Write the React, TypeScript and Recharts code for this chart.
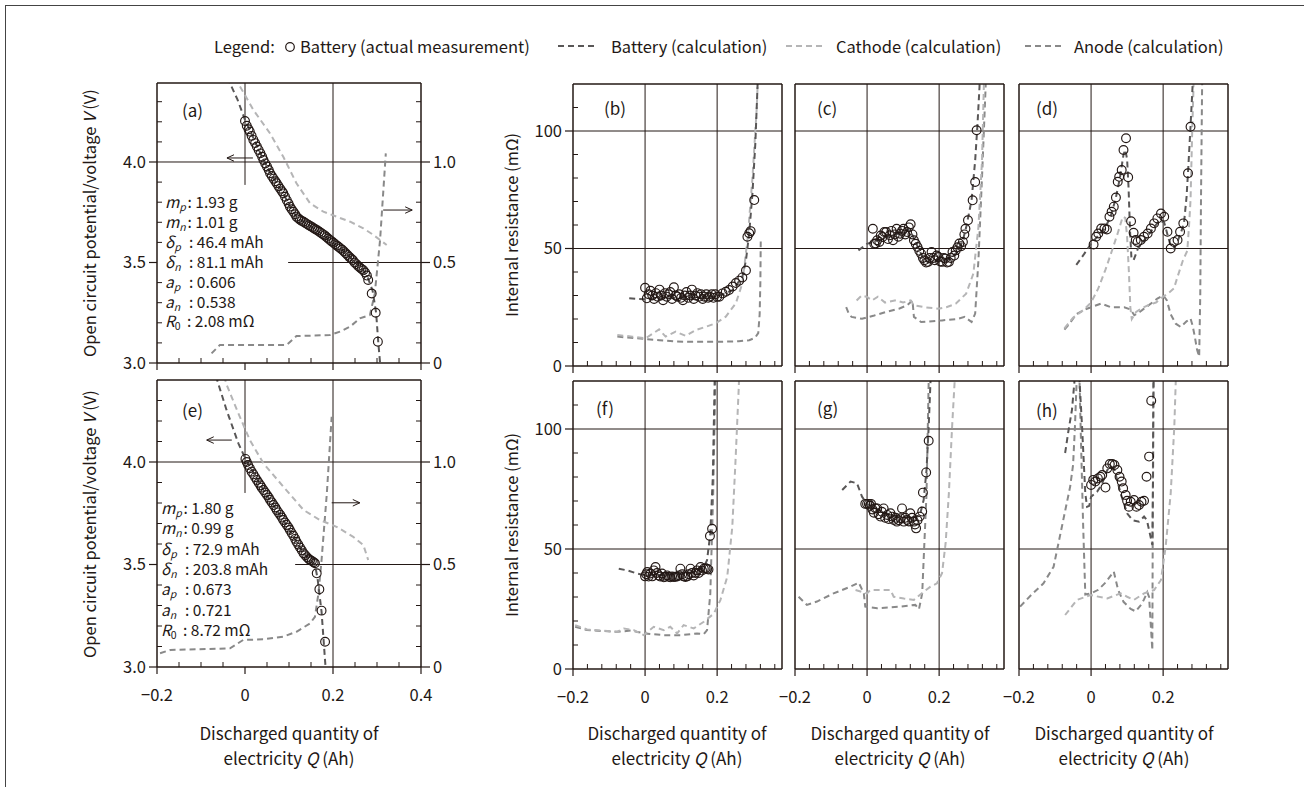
import React from 'react';
import { ComposedChart, Line, Scatter, XAxis, YAxis, ReferenceLine } from 'recharts';

const INK = '#231815';
const COL_BATT = '#595757';
const COL_CATH = '#b5b5b6';
const COL_ANODE = '#898989';
const FONT = "'Noto Sans CJK JP', 'Noto Sans', sans-serif";
const DASH = '6 4';

// ---------- tick values ----------
const QA_TICKS = [-0.2, -0.15, -0.1, -0.05, 0, 0.05, 0.1, 0.15, 0.2, 0.25, 0.3, 0.35, 0.4];
const QA_MAJOR = [-0.2, 0, 0.2, 0.4];
const QR_TICKS = [-0.2, -0.16, -0.12, -0.08, -0.04, 0, 0.04, 0.08, 0.12, 0.16, 0.2, 0.24, 0.28, 0.32, 0.36];
const QR_MAJOR = [-0.2, 0, 0.2];
const V_TICKS = [3.0, 3.1, 3.2, 3.3, 3.4, 3.5, 3.6, 3.7, 3.8, 3.9, 4.0, 4.1, 4.2, 4.3];
const V_MAJOR = [3.0, 3.5, 4.0];
const E_TICKS = [0, 0.1, 0.2, 0.3, 0.4, 0.5, 0.6, 0.7, 0.8, 0.9, 1.0, 1.1, 1.2, 1.3];
const E_MAJOR = [0, 0.5, 1.0];
const R_TICKS = [0, 10, 20, 30, 40, 50, 60, 70, 80, 90, 100, 110];
const R_MAJOR = [0, 50, 100];

// ---------- panel (a) ----------
const A_MEAS = [
  [0.0, 4.204], [0.004, 4.18], [0.008, 4.163], [0.011, 4.151], [0.015, 4.13], [0.019, 4.11], [0.023, 4.094],
  [0.027, 4.077], [0.031, 4.06], [0.035, 4.043], [0.039, 4.026], [0.042, 4.01], [0.046, 3.993], [0.05, 3.977],
  [0.054, 3.96], [0.057, 3.944], [0.061, 3.93], [0.065, 3.917], [0.069, 3.904], [0.072, 3.894], [0.076, 3.88],
  [0.08, 3.867], [0.084, 3.854], [0.087, 3.844], [0.091, 3.827], [0.095, 3.81], [0.099, 3.793], [0.102, 3.778],
  [0.106, 3.765], [0.11, 3.752], [0.114, 3.74], [0.117, 3.728], [0.121, 3.72], [0.125, 3.713], [0.129, 3.707],
  [0.133, 3.703], [0.137, 3.697], [0.141, 3.691], [0.145, 3.685], [0.149, 3.68], [0.153, 3.675], [0.157, 3.669],
  [0.161, 3.664], [0.165, 3.659], [0.169, 3.653], [0.173, 3.647], [0.177, 3.641], [0.181, 3.635], [0.185, 3.627],
  [0.189, 3.619], [0.193, 3.612], [0.197, 3.605], [0.201, 3.598], [0.205, 3.591], [0.209, 3.584], [0.213, 3.577],
  [0.217, 3.57], [0.221, 3.563], [0.225, 3.555], [0.229, 3.546], [0.233, 3.537], [0.237, 3.528], [0.241, 3.52],
  [0.245, 3.512], [0.249, 3.5], [0.253, 3.492], [0.257, 3.483], [0.261, 3.475], [0.265, 3.468], [0.269, 3.461],
  [0.273, 3.45], [0.277, 3.435], [0.28, 3.413], [0.288, 3.346], [0.297, 3.25], [0.302, 3.106],
];
const A_BATT = [
  [-0.04, 4.42], [-0.017, 4.31], [0.0, 4.21], [0.02, 4.115], [0.042, 4.01], [0.06, 3.935], [0.087, 3.844],
  [0.102, 3.778], [0.117, 3.728], [0.133, 3.703], [0.16, 3.665], [0.193, 3.612], [0.22, 3.565], [0.246, 3.51],
  [0.269, 3.461], [0.28, 3.42], [0.29, 3.36], [0.298, 3.25], [0.303, 3.1], [0.309, 2.95],
];
const A_CATH = [
  [-0.022, 4.42], [-0.015, 4.39], [0.019, 4.259], [0.057, 4.142], [0.087, 4.026], [0.117, 3.894], [0.148, 3.794],
  [0.178, 3.753], [0.208, 3.728], [0.239, 3.703], [0.269, 3.67], [0.292, 3.637], [0.307, 3.612], [0.322, 3.587],
];
const A_ANODE = [
  [-0.076, 0.048], [-0.057, 0.09], [0.095, 0.09], [0.117, 0.134], [0.193, 0.139], [0.216, 0.156], [0.239, 0.181],
  [0.261, 0.222], [0.284, 0.239], [0.295, 0.346], [0.307, 0.612], [0.314, 0.844], [0.32, 1.043],
];

// ---------- panel (e) ----------
const E_MEAS = [
  [0.001, 4.015], [0.004, 4.0], [0.007, 3.985], [0.011, 3.969], [0.015, 3.953], [0.019, 3.94], [0.023, 3.926],
  [0.027, 3.912], [0.031, 3.899], [0.035, 3.886], [0.038, 3.875], [0.042, 3.863], [0.046, 3.851], [0.05, 3.839],
  [0.054, 3.827], [0.057, 3.815], [0.061, 3.803], [0.065, 3.79], [0.069, 3.778], [0.072, 3.766], [0.076, 3.754],
  [0.08, 3.742], [0.084, 3.729], [0.087, 3.717], [0.091, 3.705], [0.095, 3.693], [0.099, 3.68], [0.102, 3.668],
  [0.106, 3.654], [0.11, 3.64], [0.114, 3.625], [0.117, 3.611], [0.121, 3.597], [0.125, 3.583], [0.129, 3.569],
  [0.133, 3.555], [0.137, 3.545], [0.141, 3.535], [0.145, 3.527], [0.148, 3.522], [0.152, 3.517], [0.156, 3.511],
  [0.159, 3.506], [0.163, 3.457], [0.169, 3.379], [0.174, 3.275], [0.182, 3.123],
];
const E_BATT = [
  [-0.066, 4.42], [-0.061, 4.384], [-0.042, 4.254], [-0.015, 4.091], [0.001, 4.015], [0.042, 3.863], [0.087, 3.717],
  [0.133, 3.555], [0.159, 3.5], [0.165, 3.43], [0.174, 3.27], [0.182, 3.03], [0.185, 2.95],
];
const E_CATH = [
  [-0.047, 4.42], [-0.043, 4.384], [-0.015, 4.237], [0.011, 4.107], [0.042, 3.993], [0.087, 3.88], [0.133, 3.766],
  [0.17, 3.717], [0.208, 3.684], [0.246, 3.635], [0.269, 3.595], [0.28, 3.522],
];
const E_ANODE = [
  [-0.193, 0.067], [-0.17, 0.083], [-0.034, 0.091], [-0.004, 0.132], [0.042, 0.135], [0.087, 0.148], [0.117, 0.172],
  [0.148, 0.213], [0.159, 0.245], [0.167, 0.36], [0.174, 0.522], [0.186, 0.847], [0.197, 1.221],
];

// ---------- panel (b) ----------
const B_MEAS = [
  [0.0, 33.3], [0.005, 28.8], [0.01, 30.5], [0.015, 32], [0.02, 30], [0.025, 28.5], [0.03, 31], [0.035, 29.5],
  [0.04, 32.5], [0.045, 30], [0.05, 28], [0.055, 31], [0.06, 29.5], [0.065, 30.5], [0.07, 31.5], [0.075, 28.5],
  [0.08, 33.5], [0.085, 30], [0.09, 29.5], [0.095, 30.5], [0.1, 29], [0.105, 28], [0.11, 30], [0.115, 31.5],
  [0.12, 29], [0.125, 30], [0.13, 32.5], [0.135, 28.5], [0.14, 30], [0.145, 31], [0.15, 29.5], [0.155, 30.5],
  [0.16, 28.5], [0.165, 29.5], [0.17, 30.5], [0.175, 29], [0.18, 29.5], [0.185, 30.5], [0.19, 29], [0.195, 30.5],
  [0.2, 29.5], [0.206, 29.5], [0.215, 30.9], [0.224, 31.6], [0.233, 32.3], [0.243, 33.8], [0.252, 35.3],
  [0.261, 36.3], [0.27, 37.7], [0.28, 40.6], [0.284, 55], [0.289, 56.5], [0.293, 57.4], [0.303, 70.6],
];
const B_BATT = [
  [-0.044, 28.8], [-0.02, 28.5], [0.0, 28.4], [0.05, 28.8], [0.1, 29], [0.15, 29], [0.2, 29.5], [0.243, 32.3],
  [0.27, 38], [0.28, 45], [0.289, 56.5], [0.298, 73.5], [0.306, 94.8], [0.312, 118.8], [0.314, 126],
];
const B_CATH = [
  [-0.077, 13.2], [-0.035, 12.5], [0.002, 11.8], [0.039, 15.6], [0.057, 12.5], [0.085, 14.6], [0.113, 12.8],
  [0.141, 15.3], [0.169, 16.7], [0.196, 18.2], [0.224, 21], [0.252, 26.7], [0.27, 35.2], [0.285, 55],
  [0.298, 80], [0.31, 110], [0.314, 126],
];
const B_ANODE = [
  [-0.077, 12.5], [-0.04, 12], [0.0, 11.5], [0.04, 11], [0.08, 10.5], [0.12, 10.3], [0.2, 10.3], [0.26, 10.5],
  [0.289, 11], [0.305, 12], [0.314, 14], [0.318, 22], [0.32, 36], [0.321, 53],
];

// ---------- panel (c) ----------
const C_MEAS = [
  [0.016, 58.4], [0.02, 52], [0.024, 52.1], [0.028, 53.5], [0.034, 52.8], [0.038, 55.5], [0.043, 54.9],
  [0.048, 57], [0.053, 57], [0.058, 54], [0.063, 55.6], [0.068, 57.5], [0.072, 53.5], [0.077, 56], [0.082, 58.4],
  [0.087, 55], [0.092, 56.3], [0.097, 57.5], [0.101, 58.4], [0.106, 56], [0.111, 57], [0.116, 59], [0.121, 60.3],
  [0.126, 56], [0.13, 53.5], [0.135, 52], [0.14, 50.6], [0.145, 49], [0.15, 47.8], [0.155, 46], [0.159, 45],
  [0.164, 44], [0.169, 44.3], [0.174, 46], [0.179, 48.5], [0.184, 46], [0.188, 45], [0.193, 47], [0.198, 46.4],
  [0.203, 44.5], [0.208, 44.3], [0.213, 46], [0.217, 45.7], [0.222, 44], [0.227, 44.3], [0.232, 46], [0.237, 48.5],
  [0.242, 47], [0.246, 49.2], [0.251, 50.5], [0.256, 52.1], [0.261, 51], [0.266, 52.8], [0.27, 56], [0.273, 58.4],
  [0.28, 62], [0.293, 70.5], [0.3, 78.3], [0.304, 100.3],
];
const C_BATT = [
  [-0.024, 49.2], [0.0, 52], [0.03, 53.5], [0.06, 55], [0.09, 56.5], [0.115, 58], [0.125, 56], [0.14, 51],
  [0.155, 46], [0.17, 44], [0.2, 45], [0.23, 45.5], [0.25, 48.5], [0.265, 53], [0.275, 59], [0.29, 70.5],
  [0.3, 87.5], [0.306, 101.7], [0.312, 118.7], [0.313, 126],
];
const C_CATH = [
  [-0.029, 27.9], [-0.015, 30], [0.0, 29.4], [0.014, 27.9], [0.03, 29.5], [0.05, 27], [0.08, 28], [0.1, 27],
  [0.121, 27.9], [0.13, 25.8], [0.16, 25], [0.198, 24.4], [0.22, 25], [0.246, 26.5], [0.275, 30.8], [0.295, 39.3],
  [0.309, 59.1], [0.319, 87.5], [0.324, 118.7], [0.325, 126],
];
const C_ANODE = [
  [-0.058, 25.1], [-0.05, 22], [-0.043, 20.9], [-0.014, 20.1], [0.02, 21.5], [0.053, 23], [0.09, 24.5],
  [0.111, 25.8], [0.126, 27.9], [0.13, 20.9], [0.15, 18.7], [0.208, 19.4], [0.25, 20], [0.271, 20.9], [0.29, 18.7],
  [0.3, 22.3], [0.309, 45], [0.319, 80.4], [0.329, 118.7], [0.33, 126],
];

// ---------- panel (d) ----------
const D_MEAS = [
  [0.007, 51.7], [0.014, 55], [0.02, 56.4], [0.028, 58.5], [0.037, 58.5], [0.044, 58.1], [0.051, 63.5],
  [0.057, 65.6], [0.063, 67.8], [0.069, 71.7], [0.074, 78.4], [0.078, 80.5], [0.085, 83.4], [0.09, 91.9],
  [0.097, 96.9], [0.103, 80.3], [0.111, 61.6], [0.118, 56.7], [0.124, 53.6], [0.129, 52.8], [0.138, 53.6],
  [0.147, 55], [0.157, 56.4], [0.166, 58.5], [0.175, 60.7], [0.184, 62.8], [0.194, 64.9], [0.203, 63.5],
  [0.212, 57.1], [0.221, 50], [0.23, 52.8], [0.24, 53.6], [0.247, 57.1], [0.256, 60.7], [0.269, 82], [0.276, 101.8],
];
const D_BATT = [
  [-0.041, 43], [-0.02, 47.5], [0.0, 52], [0.02, 55.5], [0.04, 59], [0.055, 64], [0.068, 71], [0.08, 80], [0.09, 90],
  [0.095, 92], [0.1, 88], [0.104, 76], [0.108, 58], [0.112, 46], [0.118, 45], [0.13, 50], [0.15, 54], [0.17, 58],
  [0.19, 62], [0.203, 61], [0.212, 56], [0.221, 51], [0.23, 50], [0.24, 53], [0.25, 57], [0.258, 61], [0.265, 72],
  [0.27, 85], [0.276, 102], [0.282, 120], [0.284, 126],
];
const D_CATH = [
  [-0.074, 16], [-0.05, 20.5], [-0.02, 24], [0.0, 27], [0.02, 33], [0.04, 41], [0.06, 50], [0.075, 57], [0.088, 63.5],
  [0.095, 63], [0.1, 55], [0.105, 40], [0.109, 25], [0.113, 20], [0.125, 23], [0.14, 24.5], [0.16, 26], [0.18, 27],
  [0.2, 29.5], [0.215, 31], [0.23, 33], [0.24, 38], [0.255, 45], [0.267, 49], [0.272, 60], [0.276, 70.6],
  [0.281, 102], [0.284, 117], [0.285, 126],
];
const D_ANODE = [
  [-0.074, 15.5], [-0.06, 18], [-0.041, 22], [-0.018, 24], [0.0, 25], [0.028, 26.6], [0.055, 25], [0.092, 25],
  [0.11, 24], [0.12, 21.6], [0.135, 23], [0.147, 24.4], [0.17, 27], [0.184, 28.7], [0.2, 30.1], [0.21, 28],
  [0.221, 22], [0.235, 18], [0.249, 16.6], [0.265, 19], [0.276, 20.2], [0.282, 17], [0.288, 12.4], [0.294, 7],
  [0.3, 4], [0.303, 30], [0.305, 70], [0.308, 117], [0.309, 126],
];

// ---------- panel (f) ----------
const F_MEAS = [
  [0.0, 38.6], [0.003, 39.5], [0.006, 40.4], [0.01, 38.5], [0.015, 39.8], [0.02, 38.6], [0.024, 41.1], [0.029, 42.5],
  [0.033, 40], [0.038, 39], [0.042, 38.5], [0.047, 39.8], [0.052, 38.2], [0.056, 38.4], [0.061, 39], [0.066, 38.4],
  [0.07, 38.2], [0.075, 38.6], [0.08, 38.3], [0.084, 38.4], [0.089, 38.5], [0.094, 39], [0.098, 41.8], [0.103, 39.5],
  [0.107, 38.6], [0.112, 38.3], [0.117, 38.6], [0.121, 39.5], [0.126, 41.8], [0.13, 40], [0.135, 39], [0.14, 40],
  [0.144, 41.1], [0.149, 40], [0.154, 42.5], [0.158, 41], [0.163, 41.8], [0.168, 42], [0.172, 41.8], [0.176, 41.5],
  [0.18, 55.4], [0.186, 58.4],
];
const F_BATT = [
  [-0.073, 41.8], [-0.05, 41.1], [-0.022, 39.8], [0.0, 39], [0.05, 39.2], [0.1, 39.5], [0.14, 40.5], [0.163, 42.5],
  [0.172, 45.3], [0.181, 56.4], [0.188, 79.9], [0.193, 119.4], [0.194, 126],
];
const F_CATH = [
  [-0.194, 18.3], [-0.161, 16.5], [-0.078, 15.5], [-0.059, 16.9], [-0.031, 16.2], [-0.004, 14.1], [0.024, 17.6],
  [0.052, 16.2], [0.07, 17.6], [0.089, 14.8], [0.107, 18.3], [0.135, 16.9], [0.163, 19.7], [0.191, 23.1],
  [0.209, 28.7], [0.228, 38.4], [0.242, 59.1], [0.251, 86.8], [0.26, 117.3], [0.262, 126],
];
const F_ANODE = [
  [-0.194, 17.6], [-0.161, 16.2], [-0.078, 15.5], [-0.04, 16], [0.0, 14.8], [0.052, 14.1], [0.098, 14.1],
  [0.144, 14.8], [0.163, 14.5], [0.172, 16.2], [0.181, 31.4], [0.189, 73], [0.195, 119.4], [0.196, 126],
];

// ---------- panel (g) ----------
const G_MEAS = [
  [-0.005, 68.8], [0.0, 68.8], [0.005, 68.8], [0.008, 68], [0.011, 68.8], [0.015, 66.5], [0.019, 65.1], [0.023, 67],
  [0.028, 66.9], [0.032, 64.5], [0.037, 63.5], [0.041, 65.5], [0.046, 66.9], [0.05, 63], [0.056, 64.2], [0.06, 62.5],
  [0.065, 64.9], [0.07, 63.5], [0.074, 62.1], [0.079, 63], [0.083, 61.4], [0.088, 62], [0.093, 62.8], [0.097, 66.9],
  [0.102, 61.4], [0.106, 63], [0.111, 62.1], [0.116, 61.5], [0.12, 64.9], [0.125, 63], [0.13, 61.4], [0.133, 60.2],
  [0.136, 58.6], [0.14, 62], [0.146, 63.5], [0.153, 65.6], [0.155, 73.5], [0.164, 81.9], [0.171, 95.1],
];
const G_BATT = [
  [-0.069, 74.6], [-0.046, 78.1], [-0.028, 77.4], [-0.014, 71.8], [0.0, 68.8], [0.03, 66.5], [0.06, 64.5],
  [0.09, 63.5], [0.12, 63], [0.14, 63.5], [0.148, 64.9], [0.157, 70.4], [0.165, 82.9], [0.171, 101], [0.176, 119.7],
  [0.177, 126],
];
const G_CATH = [
  [-0.032, 32.9], [0.0, 31.5], [0.009, 32.9], [0.065, 32.9], [0.074, 30.1], [0.102, 29.4], [0.13, 28.8],
  [0.157, 32.2], [0.176, 34.3], [0.194, 35.7], [0.208, 39.9], [0.218, 52.4], [0.227, 73.2], [0.236, 101],
  [0.243, 119.7], [0.244, 126],
];
const G_ANODE = [
  [-0.19, 30.1], [-0.167, 26.7], [-0.139, 28.1], [-0.093, 31.5], [-0.046, 34.3], [-0.023, 36], [-0.009, 31.5],
  [-0.005, 26], [0.028, 25.3], [0.093, 26], [0.134, 26.7], [0.144, 24.9], [0.153, 31.5], [0.157, 45.4],
  [0.165, 73.2], [0.171, 119.7], [0.172, 126],
];

// ---------- panel (h) ----------
const H_MEAS = [
  [0.0, 76.7], [0.006, 78.8], [0.012, 78.1], [0.019, 79.4], [0.026, 80.1], [0.031, 80.8], [0.04, 75.6], [0.045, 83.6],
  [0.052, 85.4], [0.059, 85.4], [0.065, 85], [0.073, 82.9], [0.079, 80.1], [0.085, 78.1], [0.089, 75.3],
  [0.096, 72.5], [0.1, 70.1], [0.105, 67.6], [0.11, 69.7], [0.119, 70.4], [0.126, 67.6], [0.133, 68.3], [0.14, 69.7],
  [0.147, 70.1], [0.154, 80.1], [0.161, 88.5], [0.167, 111.8],
];
const H_BATT = [
  [-0.072, 90], [-0.062, 100], [-0.053, 108], [-0.046, 120], [-0.04, 135], [-0.032, 120], [-0.025, 101],
  [-0.016, 73], [-0.011, 67.6], [-0.005, 68], [0.0, 71.8], [0.017, 73.9], [0.03, 77], [0.045, 82.9], [0.055, 84.5],
  [0.065, 83], [0.082, 73.2], [0.1, 64.9], [0.115, 62], [0.133, 61.4], [0.147, 63.5], [0.155, 62], [0.161, 57.9],
  [0.17, 51.7], [0.172, 80], [0.173, 110], [0.174, 126],
];
const H_CATH = [
  [-0.072, 22.5], [-0.039, 28.8], [-0.002, 30.8], [0.045, 29.4], [0.082, 31.5], [0.1, 30.1], [0.119, 28.8],
  [0.147, 31.5], [0.175, 32.9], [0.194, 37.1], [0.207, 51], [0.221, 73.2], [0.231, 101], [0.235, 119.7], [0.237, 126],
];
const H_ANODE = [
  [-0.197, 26], [-0.165, 31], [-0.132, 35.7], [-0.104, 42.6], [-0.081, 59.3], [-0.058, 76], [-0.05, 85],
  [-0.045, 100], [-0.04, 120], [-0.036, 130], [-0.032, 120], [-0.028, 95], [-0.022, 60], [-0.016, 31], [0.0, 31.5],
  [0.02, 33], [0.04, 36], [0.063, 40.6], [0.075, 33], [0.09, 28], [0.11, 25], [0.124, 24], [0.14, 27], [0.147, 29],
  [0.156, 32], [0.161, 30], [0.166, 17.6], [0.17, 7.9], [0.171, 50], [0.172, 100], [0.173, 126],
];

// ---------- text content ----------
const A_PARAMS = [
  ['m', 'p', '1.93 g'], ['m', 'n', '1.01 g'], ['δ', 'p', '46.4 mAh'], ['δ', 'n', '81.1 mAh'],
  ['a', 'p', '0.606'], ['a', 'n', '0.538'], ['R', '0', '2.08 mΩ'],
];
const E_PARAMS = [
  ['m', 'p', '1.80 g'], ['m', 'n', '0.99 g'], ['δ', 'p', '72.9 mAh'], ['δ', 'n', '203.8 mAh'],
  ['a', 'p', '0.673'], ['a', 'n', '0.721'], ['R', '0', '8.72 mΩ'],
];
const LEGEND_ITEMS = ['Battery (actual measurement)', 'Battery (calculation)', 'Cathode (calculation)', 'Anode (calculation)'];

type Pt = { x: number; y: number };
const toPts = (a: number[][]): Pt[] => a.map(([x, y]) => ({ x, y }));

const near = (arr: number[], v: number) => arr.some((m) => Math.abs(m - v) < 1e-9);
const fmtQ = (v: number) => (Math.abs(v) < 1e-9 ? '0' : v < 0 ? '\u2212' + Math.abs(v).toFixed(1) : v.toFixed(1));
const fmtV = (v: number) => v.toFixed(1);
const fmtE = (v: number) => (Math.abs(v) < 1e-9 ? '0' : v.toFixed(1));
const fmtR = (v: number) => String(v);

const tickTextStyle: React.CSSProperties = { fontFamily: FONT, fontSize: 16.5, fill: INK };

const xTick = (major: number[], labels: boolean) => (p: any) => {
  const { x, y, payload } = p;
  const v = payload.value;
  const mj = near(major, v);
  return (
    <g>
      {mj ? (
        <line x1={x} x2={x} y1={y} y2={y + 7} stroke={INK} strokeWidth={1.2} />
      ) : (
        <line x1={x} x2={x} y1={y} y2={y - 5} stroke={INK} strokeWidth={1} />
      )}
      {mj && labels ? (
        <text x={x} y={y + 28} dy="0.35em" textAnchor="middle" style={tickTextStyle}>
          {fmtQ(v)}
        </text>
      ) : null}
    </g>
  );
};

const yTickLeft = (major: number[], fmt: (v: number) => string) => (p: any) => {
  const { x, y, payload } = p;
  const v = payload.value;
  const mj = near(major, v);
  return (
    <g>
      {mj ? (
        <line x1={x} x2={x - 8} y1={y} y2={y} stroke={INK} strokeWidth={1.2} />
      ) : (
        <line x1={x} x2={x + 5} y1={y} y2={y} stroke={INK} strokeWidth={1} />
      )}
      {mj ? (
        <text x={x - 11} y={y} dy="0.35em" textAnchor="end" style={tickTextStyle}>
          {fmt(v)}
        </text>
      ) : null}
    </g>
  );
};

const yTickRight = (major: number[], fmt: (v: number) => string) => (p: any) => {
  const { x, y, payload } = p;
  const v = payload.value;
  const mj = near(major, v);
  return (
    <g>
      {mj ? (
        <line x1={x} x2={x + 9} y1={y} y2={y} stroke={INK} strokeWidth={1.2} />
      ) : (
        <line x1={x} x2={x - 5} y1={y} y2={y} stroke={INK} strokeWidth={1} />
      )}
      {mj ? (
        <text x={x + 12} y={y} dy="0.35em" textAnchor="start" style={tickTextStyle}>
          {fmt(v)}
        </text>
      ) : null}
    </g>
  );
};

const circleShape = (p: any) => <circle cx={p.cx} cy={p.cy} r={4.4} fill="none" stroke={INK} strokeWidth={1.15} />;

const M = 40;
const AXIS_LINE = { stroke: INK, strokeWidth: 1.5 };

interface PanelProps {
  left: number;
  top: number;
  w: number;
  h: number;
  xDomain: [number, number];
  yDomain: [number, number];
  xTicks: number[];
  xMajor: number[];
  xLabels: boolean;
  yTicks?: number[];
  yMajor?: number[];
  yFmt?: (v: number) => string;
  rDomain?: [number, number];
  rTicks?: number[];
  rMajor?: number[];
  rFmt?: (v: number) => string;
  meas: number[][];
  batt: number[][];
  cath: number[][];
  anode: number[][];
  anodeRight?: boolean;
  extras: any[];
}

function Panel(pp: PanelProps) {
  const hasR = !!pp.rDomain;
  return (
    <div style={{ position: 'absolute', left: pp.left - M, top: pp.top - M }}>
      <ComposedChart
        width={pp.w + 2 * M}
        height={pp.h + 2 * M}
        margin={{ top: M - 1, right: M - 1, bottom: M - 1, left: M - 1 }}
        style={{ overflow: 'visible' }}
      >
        <XAxis
          xAxisId={0}
          type="number"
          dataKey="x"
          domain={pp.xDomain}
          allowDataOverflow
          ticks={pp.xTicks}
          interval={0}
          height={1}
          tickSize={0}
          tickMargin={0}
          tickLine={false}
          axisLine={AXIS_LINE}
          tick={xTick(pp.xMajor, pp.xLabels)}
        />
        <XAxis
          xAxisId="top"
          orientation="top"
          type="number"
          domain={pp.xDomain}
          allowDataOverflow
          height={1}
          tick={false}
          tickLine={false}
          axisLine={AXIS_LINE}
        />
        <YAxis
          yAxisId={0}
          type="number"
          dataKey="y"
          domain={pp.yDomain}
          allowDataOverflow
          width={1}
          ticks={pp.yTicks}
          interval={0}
          tickSize={0}
          tickMargin={0}
          tickLine={false}
          axisLine={AXIS_LINE}
          tick={pp.yTicks ? yTickLeft(pp.yMajor || [], pp.yFmt || fmtR) : false}
        />
        <YAxis
          yAxisId="r"
          orientation="right"
          type="number"
          dataKey="y"
          domain={pp.rDomain || pp.yDomain}
          allowDataOverflow
          width={1}
          ticks={pp.rTicks}
          interval={0}
          tickSize={0}
          tickMargin={0}
          tickLine={false}
          axisLine={AXIS_LINE}
          tick={hasR && pp.rTicks ? yTickRight(pp.rMajor || [], pp.rFmt || fmtE) : false}
        />
        {pp.extras.map((e: any, i: number) => (
          <ReferenceLine key={'g' + i} stroke={INK} strokeWidth={1} ifOverflow="visible" {...e} />
        ))}
        <Line
          data={toPts(pp.anode)}
          dataKey="y"
          yAxisId={pp.anodeRight ? 'r' : 0}
          type="linear"
          stroke={COL_ANODE}
          strokeWidth={2}
          strokeDasharray={DASH}
          dot={false}
          activeDot={false}
          isAnimationActive={false}
        />
        <Line
          data={toPts(pp.cath)}
          dataKey="y"
          type="linear"
          stroke={COL_CATH}
          strokeWidth={2}
          strokeDasharray={DASH}
          dot={false}
          activeDot={false}
          isAnimationActive={false}
        />
        <Line
          data={toPts(pp.batt)}
          dataKey="y"
          type="linear"
          stroke={COL_BATT}
          strokeWidth={2}
          strokeDasharray={DASH}
          dot={false}
          activeDot={false}
          isAnimationActive={false}
        />
        <Scatter data={toPts(pp.meas)} dataKey="y" shape={circleShape} isAnimationActive={false} />
      </ComposedChart>
    </div>
  );
}

// arrow: shaft + head as reference segments, in data units (head drawn at `tip`)
const arrow = (tail: number, tip: number, yv: number, hx: number, hy: number) => {
  const back = tip > tail ? tip - hx : tip + hx;
  return [
    { segment: [{ x: tail, y: yv }, { x: tip, y: yv }] },
    { segment: [{ x: tip, y: yv }, { x: back, y: yv + hy }] },
    { segment: [{ x: tip, y: yv }, { x: back, y: yv - hy }] },
  ];
};

const TOP_Y = 84;
const TOP_H = 282;
const BOT_Y = 381;
const BOT_H = 288;
const COLS = [573, 795, 1019];
const PW = 209;

const textBase: React.CSSProperties = {
  position: 'absolute',
  fontFamily: FONT,
  color: INK,
  whiteSpace: 'nowrap',
  lineHeight: 1,
};

function Params({ items, x, y0, dy }: { items: string[][]; x: number; y0: number; dy: number }) {
  return (
    <>
      {items.map(([s, sub, val], i) => {
        const symW = s === 'm' ? 22.5 : s === 'R' ? 22 : 24;
        const y = y0 + i * dy;
        return (
          <div key={i} style={{ ...textBase, left: x, top: y - 8, fontSize: 15.5, height: 16 }}>
            <span style={{ display: 'inline-block', width: symW }}>
              <span style={{ fontStyle: 'italic' }}>{s}</span>
              <span
                style={{
                  fontStyle: sub === '0' ? 'normal' : 'italic',
                  fontSize: 10.5,
                  position: 'relative',
                  top: 3,
                }}
              >
                {sub}
              </span>
            </span>
            <span>: {val}</span>
          </div>
        );
      })}
    </>
  );
}

function PanelLabel({ t, x, y }: { t: string; x: number; y: number }) {
  return <div style={{ ...textBase, left: x, top: y - 9, fontSize: 17 }}>{t}</div>;
}

function XTitle({ cx }: { cx: number }) {
  return (
    <>
      <div style={{ ...textBase, left: cx - 120, width: 240, textAlign: 'center', top: 724, fontSize: 17 }}>
        Discharged quantity of
      </div>
      <div style={{ ...textBase, left: cx - 120, width: 240, textAlign: 'center', top: 749, fontSize: 17 }}>
        electricity <span style={{ fontStyle: 'italic' }}>Q</span> (Ah)
      </div>
    </>
  );
}

function YTitle({ cx, cy, children }: { cx: number; cy: number; children: React.ReactNode }) {
  return (
    <div
      style={{
        ...textBase,
        left: cx,
        top: cy,
        fontSize: 16.5,
        transform: 'translate(-50%, -50%) rotate(-90deg)',
      }}
    >
      {children}
    </div>
  );
}

function Dash({ x, color }: { x: number; color: string }) {
  return (
    <svg style={{ position: 'absolute', left: x, top: 42 }} width={40} height={8}>
      <line x1={0} x2={40} y1={4} y2={4} stroke={color} strokeWidth={2.2} strokeDasharray="6 4" />
    </svg>
  );
}

const GRID_R = [{ x: 0 }, { x: 0.2 }, { y: 50 }, { y: 100 }];

export default function App() {
  return (
    <div
      style={{
        position: 'absolute',
        left: 0,
        top: 0,
        width: 1304,
        height: 787,
        background: '#fff',
        overflow: 'hidden',
        fontFamily: FONT,
      }}
    >
      <div style={{ position: 'absolute', left: 5, top: 5, width: 1400, height: 900, borderLeft: '1px solid #444', borderTop: '1px solid #444' }} />

      {/* legend */}
      <div style={{ ...textBase, left: 214, top: 38, fontSize: 16.5 }}>Legend:</div>
      <svg style={{ position: 'absolute', left: 284, top: 41 }} width={12} height={12}>
        <circle cx={6} cy={6} r={4.3} fill="none" stroke={INK} strokeWidth={1.2} />
      </svg>
      <div style={{ ...textBase, left: 300, top: 38, fontSize: 16.5 }}>{LEGEND_ITEMS[0]}</div>
      <Dash x={558} color={COL_BATT} />
      <div style={{ ...textBase, left: 611, top: 38, fontSize: 16.5 }}>{LEGEND_ITEMS[1]}</div>
      <Dash x={786} color={COL_CATH} />
      <div style={{ ...textBase, left: 836, top: 38, fontSize: 16.5 }}>{LEGEND_ITEMS[2]}</div>
      <Dash x={1025} color={COL_ANODE} />
      <div style={{ ...textBase, left: 1074, top: 38, fontSize: 16.5 }}>{LEGEND_ITEMS[3]}</div>

      <Panel
        left={157}
        top={83}
        w={264}
        h={280}
        xDomain={[-0.2, 0.4]}
        yDomain={[3.0, 4.393]}
        xTicks={QA_TICKS}
        xMajor={QA_MAJOR}
        xLabels={false}
        yTicks={V_TICKS}
        yMajor={V_MAJOR}
        yFmt={fmtV}
        rDomain={[0, 1.393]}
        rTicks={E_TICKS}
        rMajor={E_MAJOR}
        rFmt={fmtE}
        meas={A_MEAS}
        batt={A_BATT}
        cath={A_CATH}
        anode={A_ANODE}
        anodeRight
        extras={[
          { segment: [{ x: 0, y: 4.393 }, { x: 0, y: 3.886 }] },
          { x: 0.2 },
          { y: 4.0 },
          { segment: [{ x: 0.098, y: 3.5 }, { x: 0.4, y: 3.5 }] },
          ...arrow(0.018, -0.041, 4.02, 0.016, 0.016),
          ...arrow(0.314, 0.38, 3.761, 0.016, 0.016),
        ]}
      />
      <Panel
        left={157}
        top={380}
        w={264}
        h={287}
        xDomain={[-0.2, 0.4]}
        yDomain={[3.0, 4.4]}
        xTicks={QA_TICKS}
        xMajor={QA_MAJOR}
        xLabels
        yTicks={V_TICKS}
        yMajor={V_MAJOR}
        yFmt={fmtV}
        rDomain={[0, 1.4]}
        rTicks={E_TICKS}
        rMajor={E_MAJOR}
        rFmt={fmtE}
        meas={E_MEAS}
        batt={E_BATT}
        cath={E_CATH}
        anode={E_ANODE}
        anodeRight
        extras={[
          { segment: [{ x: 0, y: 4.4 }, { x: 0, y: 3.849 }] },
          { x: 0.2 },
          { y: 4.0 },
          { segment: [{ x: 0.114, y: 3.5 }, { x: 0.4, y: 3.5 }] },
          ...arrow(-0.03, -0.087, 4.107, 0.016, 0.016),
          ...arrow(0.197, 0.261, 3.801, 0.016, 0.016),
        ]}
      />

      <Panel left={COLS[0]} top={TOP_Y} w={PW} h={TOP_H} xDomain={[-0.2, 0.38]} yDomain={[0, 120]}
        xTicks={QR_TICKS} xMajor={QR_MAJOR} xLabels={false} yTicks={R_TICKS} yMajor={R_MAJOR} yFmt={fmtR}
        meas={B_MEAS} batt={B_BATT} cath={B_CATH} anode={B_ANODE} extras={GRID_R} />
      <Panel left={COLS[1]} top={TOP_Y} w={PW} h={TOP_H} xDomain={[-0.2, 0.38]} yDomain={[0, 120]}
        xTicks={QR_TICKS} xMajor={QR_MAJOR} xLabels={false}
        meas={C_MEAS} batt={C_BATT} cath={C_CATH} anode={C_ANODE} extras={GRID_R} />
      <Panel left={COLS[2]} top={TOP_Y} w={PW} h={TOP_H} xDomain={[-0.2, 0.38]} yDomain={[0, 120]}
        xTicks={QR_TICKS} xMajor={QR_MAJOR} xLabels={false}
        meas={D_MEAS} batt={D_BATT} cath={D_CATH} anode={D_ANODE} extras={GRID_R} />
      <Panel left={COLS[0]} top={BOT_Y} w={PW} h={BOT_H} xDomain={[-0.2, 0.38]} yDomain={[0, 120]}
        xTicks={QR_TICKS} xMajor={QR_MAJOR} xLabels yTicks={R_TICKS} yMajor={R_MAJOR} yFmt={fmtR}
        meas={F_MEAS} batt={F_BATT} cath={F_CATH} anode={F_ANODE} extras={GRID_R} />
      <Panel left={COLS[1]} top={BOT_Y} w={PW} h={BOT_H} xDomain={[-0.2, 0.38]} yDomain={[0, 120]}
        xTicks={QR_TICKS} xMajor={QR_MAJOR} xLabels
        meas={G_MEAS} batt={G_BATT} cath={G_CATH} anode={G_ANODE} extras={GRID_R} />
      <Panel left={COLS[2]} top={BOT_Y} w={PW} h={BOT_H} xDomain={[-0.2, 0.38]} yDomain={[0, 120]}
        xTicks={QR_TICKS} xMajor={QR_MAJOR} xLabels
        meas={H_MEAS} batt={H_BATT} cath={H_CATH} anode={H_ANODE} extras={GRID_R} />

      <Params items={A_PARAMS} x={165} y0={202} dy={19.9} />
      <Params items={E_PARAMS} x={161} y0={508} dy={20.3} />
      <PanelLabel t="(a)" x={182} y={110} />
      <PanelLabel t="(e)" x={182} y={410} />
      <PanelLabel t="(b)" x={604} y={108} />
      <PanelLabel t="(c)" x={817} y={108} />
      <PanelLabel t="(d)" x={1036} y={108} />
      <PanelLabel t="(f)" x={596} y={408} />
      <PanelLabel t="(g)" x={817} y={408} />
      <PanelLabel t="(h)" x={1036} y={410} />

      <XTitle cx={289} />
      <XTitle cx={677} />
      <XTitle cx={900} />
      <XTitle cx={1124} />

      <YTitle cx={89} cy={223}>
        Open circuit potential/voltage <span style={{ fontStyle: 'italic' }}>V</span> (V)
      </YTitle>
      <YTitle cx={89} cy={524}>
        Open circuit potential/voltage <span style={{ fontStyle: 'italic' }}>V</span> (V)
      </YTitle>
      <YTitle cx={511} cy={225}>Internal resistance (mΩ)</YTitle>
      <YTitle cx={511} cy={525}>Internal resistance (mΩ)</YTitle>
    </div>
  );
}
